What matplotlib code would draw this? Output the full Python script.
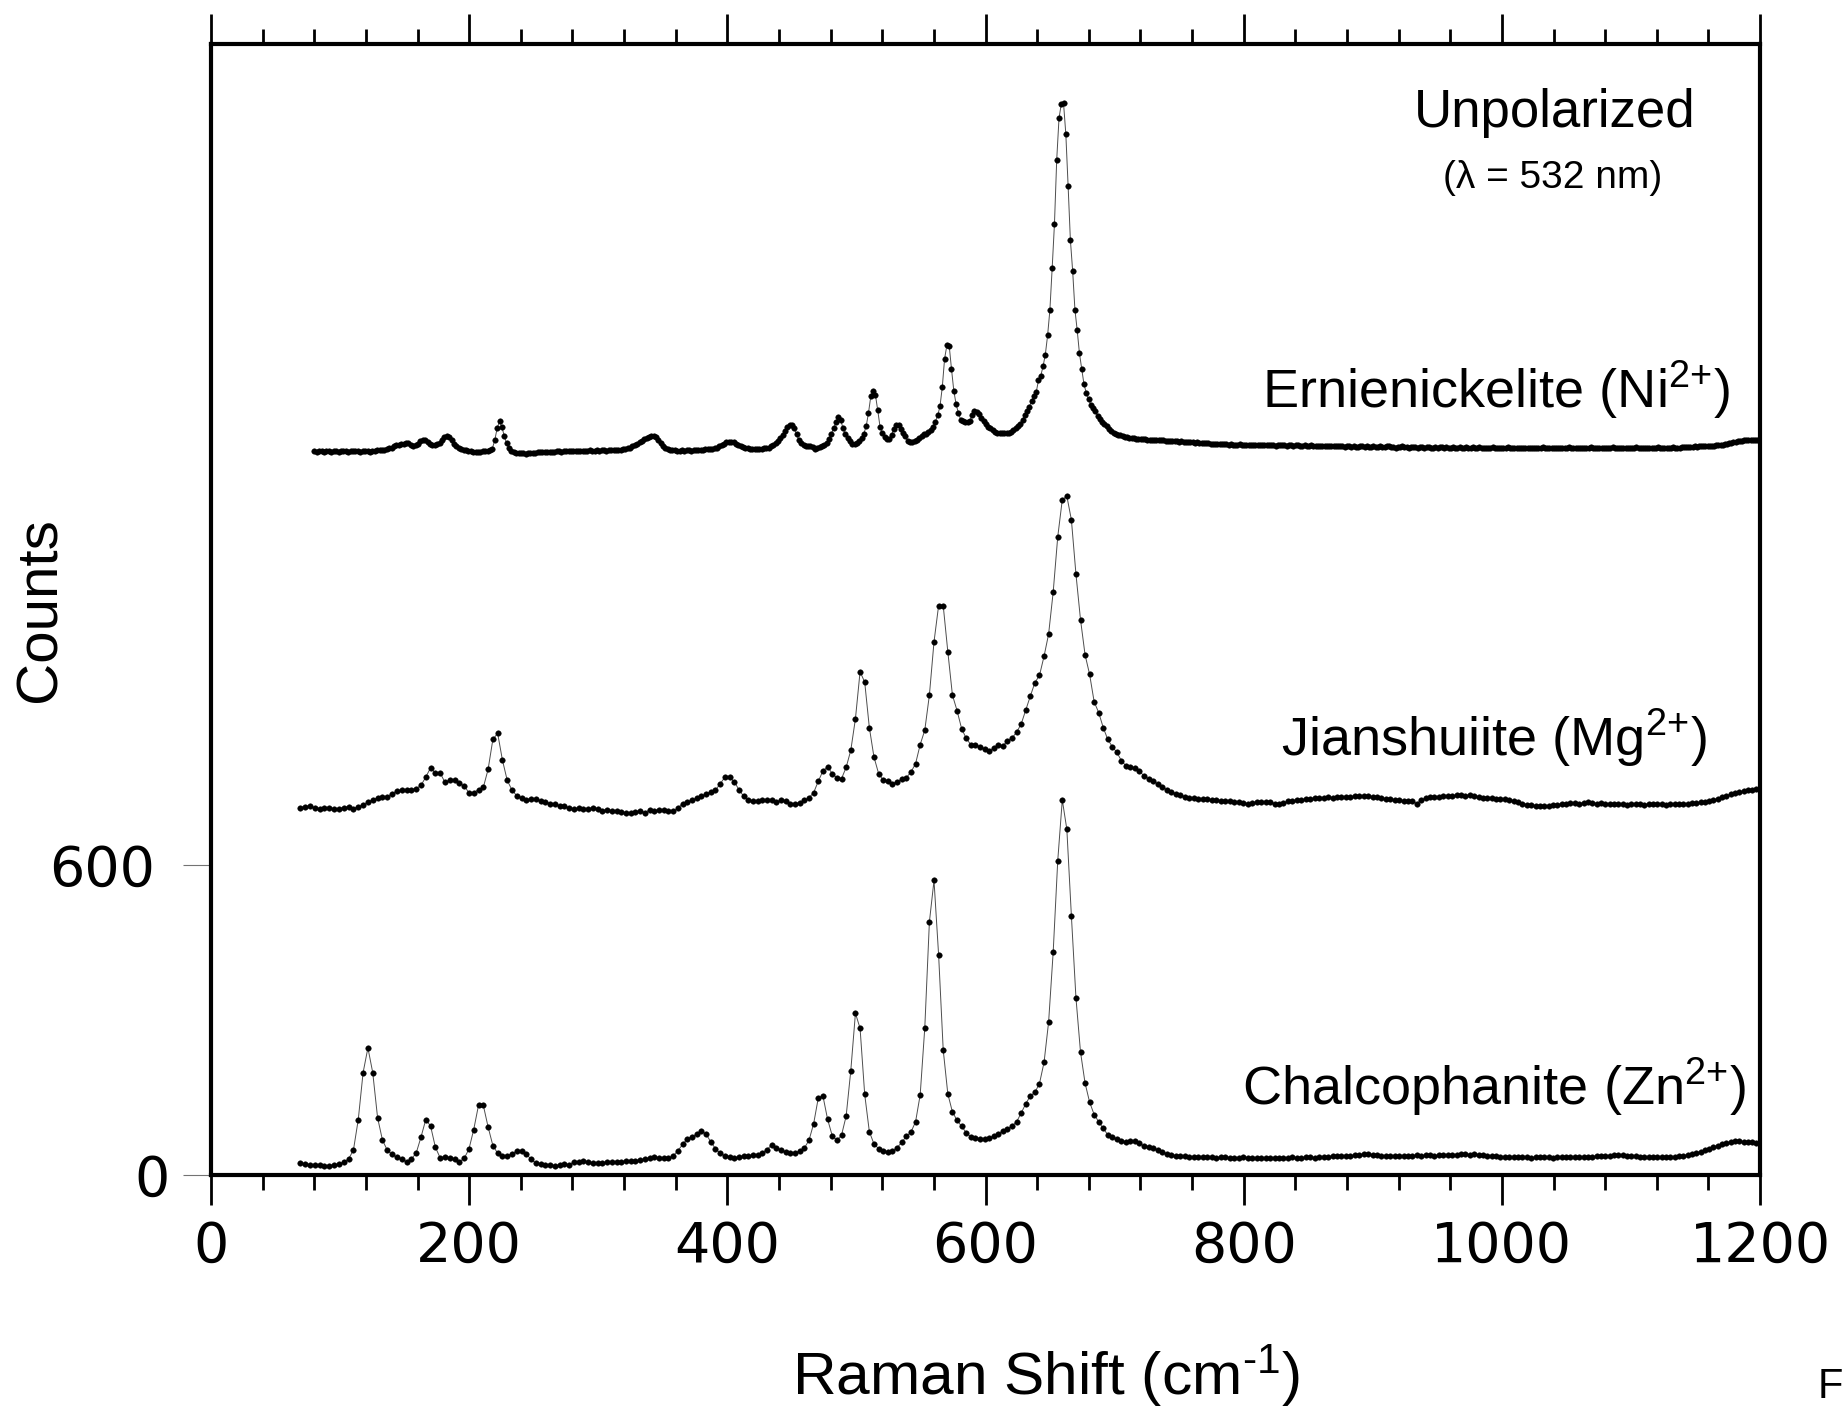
import numpy as np
import matplotlib
matplotlib.use("Agg")
import matplotlib.pyplot as plt
from matplotlib.ticker import MultipleLocator
from matplotlib.transforms import ScaledTranslation

plt.rcParams["font.family"] = ["Liberation Sans", "DejaVu Sans"]
plt.rcParams["mathtext.fontset"] = "custom"
plt.rcParams["mathtext.rm"] = "Liberation Sans"
plt.rcParams["mathtext.default"] = "regular"

LASER_NM = 532.0

# Spectra are sampled on an even CCD wavelength grid; counts are stored
# above each trace's vertical offset.
CHALCO_START, CHALCO_STEP_NM, CHALCO_OFFSET = 69.0, 0.1073, 0
JIAN_START, JIAN_STEP_NM, JIAN_OFFSET = 69.0, 0.1073, 690
ERNIE_START, ERNIE_STEP_NM, ERNIE_OFFSET = 80.0, 0.0536, 1380

chalco_counts = [
    23, 21, 19, 19, 19, 17, 18, 20, 21, 25,
    31, 48, 107, 198, 246, 198, 111, 68, 48, 40,
    34, 30, 26, 31, 42, 73, 107, 95, 54, 33,
    35, 33, 30, 26, 32, 50, 88, 135, 135, 93,
    57, 42, 36, 37, 41, 46, 47, 41, 30, 23,
    21, 20, 19, 18, 19, 21, 20, 25, 26, 27,
    25, 24, 23, 23, 25, 25, 26, 26, 27, 27,
    28, 29, 31, 33, 34, 33, 33, 32, 37,
    47, 59, 70, 74, 79, 85, 79, 64, 51, 42,
    37, 35, 33, 35, 37, 37, 38, 39, 43, 49,
    58, 53, 48, 44, 43, 43, 46, 52, 67, 99,
    149, 153, 108, 76, 67, 77, 114, 202, 313, 284,
    156, 84, 60, 51, 46, 45, 46, 53, 63, 75,
    83, 103, 155, 285, 490, 570, 426, 242, 157, 122,
    106, 94, 82, 74, 71, 69, 69, 72, 75, 80,
    85, 89, 95, 103, 120, 138, 153, 160, 177, 218,
    296, 431, 608, 726, 669, 501, 343, 238, 178, 141,
    117, 103, 90, 78, 73, 69, 65, 64, 65, 65,
    61, 56, 54,
    53, 48, 44, 41, 39, 37, 36, 36, 35,
    35, 34, 34, 35, 34, 33, 34, 34, 33,
    33, 33, 34, 33, 32, 33, 33, 32, 33, 33, 32, 33, 33, 34, 33, 33, 34, 34, 33, 34,
    35, 35, 36, 36, 37, 36, 37, 38, 39, 40, 40, 39, 38, 37, 37, 36, 37, 36, 37, 37,
    37, 38, 37, 38, 38, 37, 38, 39, 38, 38, 39, 40, 40, 39, 40, 39, 38, 37, 36, 36,
    35, 35, 34, 34, 35, 34, 34, 33, 34, 34, 34, 34, 33, 34, 34, 35, 34, 34, 34, 35,
    35, 35, 36, 36, 37, 37, 38, 38, 38, 37, 37, 36, 35, 34, 34, 34, 34, 34, 34, 34,
    35, 36, 37, 39, 41, 43, 45, 48, 51, 54, 57, 60, 62, 64, 65, 65, 64, 64, 63, 62, 62,
]

jian_counts = [
    21, 23, 24, 20, 18, 21, 20, 18, 19, 21,
    23, 19, 23, 26, 32, 36, 40, 42, 42, 48,
    53, 55, 55, 56, 58, 64, 80, 98, 88, 88,
    70, 74, 74, 68, 63, 50, 50, 56, 60, 95,
    153, 165, 113, 74, 55, 44, 40, 36, 38, 37,
    34, 32, 29, 28, 24, 24, 20, 18, 20, 18,
    18, 21, 18, 15, 17, 15, 15, 13, 10, 11,
    13, 15, 11, 17, 15, 17, 16, 15, 14,
    20, 29, 32, 35, 39, 43, 47, 52, 55, 67,
    80, 80, 71, 56, 43, 35, 34, 34, 35, 35,
    35, 32, 35, 33, 29, 29, 30, 35, 40, 50,
    72, 92, 100, 87, 79, 77, 99, 132, 193, 284,
    264, 176, 119, 87, 74, 72, 67, 71, 76, 79,
    90, 106, 143, 171, 239, 342, 412, 412, 323, 239,
    209, 174, 155, 143, 142, 139, 134, 131, 136, 142,
    141, 150, 156, 167, 183, 210, 237, 263, 277, 314,
    357, 438, 545, 617, 624, 578, 473, 385, 317, 279,
    226, 205, 176, 153, 139, 128, 112, 102, 99, 98,
    92, 82, 77,
    73, 67, 61, 56, 52, 48, 45, 42, 40,
    39, 38, 37, 37, 36, 35, 34, 33, 33,
    32, 31, 30, 29, 30, 31, 32, 32, 31, 29, 28, 30, 33, 34, 35, 36, 37, 38, 39, 39,
    40, 41, 40, 41, 42, 42, 41, 43, 44, 43, 43, 42, 41, 39, 38, 37, 36, 35, 34, 34,
    33, 29, 36, 39, 41, 42, 42, 43, 44, 44, 45, 45, 44, 45, 43, 41, 40, 39, 39, 38,
    38, 37, 36, 34, 31, 29, 27, 26, 25, 24, 24, 25, 26, 27, 28, 29, 30, 30, 29, 30,
    31, 30, 29, 30, 29, 28, 29, 28, 28, 27, 28, 29, 28, 27, 28, 28, 29, 28, 27, 28,
    28, 28, 29, 29, 30, 30, 31, 32, 34, 36, 38, 41, 44, 47, 49, 51, 53, 55, 56, 57, 58,
]

ernie_counts = [
    21, 20, 21, 22, 20, 21, 21, 20, 22, 21, 20, 21, 22, 21, 20, 21, 21, 22, 21, 20, 21, 22, 21, 20, 21,
    22, 23, 23, 24, 24, 25, 27, 28, 30, 32, 33, 34, 35, 37, 36, 33, 31, 32, 35, 40, 43, 42, 38, 34, 33,
    33, 34, 37, 42, 48, 51, 48, 42, 35, 31, 28, 26, 24, 23, 22, 21, 20, 20, 20, 20, 21, 21, 22, 23, 26,
    42, 65, 79, 68, 50, 36, 27, 22, 20, 18, 17, 17, 17, 16, 17, 17, 18, 18, 19, 19, 19, 20, 20, 20, 20,
    20, 21, 21, 20, 21, 22, 21, 21, 22, 22, 21, 22, 22, 21, 22, 23, 22, 22, 23, 22, 23, 23, 22, 23, 23,
    23, 23, 24, 24, 25, 26, 27, 28, 30, 32, 35, 38, 41, 44, 46, 48, 50, 51, 48, 42, 36, 30, 27, 25, 24,
    23, 23, 22, 22, 23, 22, 23, 23, 22, 23, 23, 23, 24, 24, 25, 25, 26, 26, 27, 28, 30, 32, 35, 38, 39,
    39, 38, 35, 32, 30, 29, 28, 27, 26, 26, 26, 26, 26, 26, 27, 27, 28, 30, 33, 37, 41, 46, 52, 60, 68,
    72, 71, 66, 54, 43, 37, 33, 30, 30, 31, 29, 26, 27, 29, 31, 32, 36, 45, 55, 65, 77, 88, 82, 65, 54,
    46, 40, 34, 34, 36, 40, 46, 55, 69, 95, 127, 138, 130, 100, 68, 56, 48, 44, 45, 53, 64, 72, 71, 64, 56,
    50, 40, 39, 39, 41, 43, 47, 51, 54, 55, 58, 62, 67, 78, 90, 108, 145, 200, 226, 225, 180, 138, 112, 95, 82,
    79, 78, 78, 80, 90, 98, 97, 92, 86, 80, 74, 68, 65, 62, 59, 57, 56, 56, 56, 56, 57, 59, 62, 65, 69,
    74, 82, 90, 98, 107, 118, 128, 135, 158, 167, 185, 208, 245, 294, 375, 460, 585, 665, 693, 694, 635, 535, 430, 370, 295,
    255, 210, 180, 150, 134, 122, 111, 104, 98, 89, 83, 77, 73, 69, 64, 60, 57, 55, 53, 52, 51, 49, 48, 47, 46,
    46, 45, 45, 44, 44, 44, 43, 43, 43, 42, 42, 43, 42, 42, 41, 41, 41, 40, 40, 40, 39, 40, 39, 38, 38,
    38, 38, 37, 38, 37, 37, 36, 36, 36, 35, 35, 35, 34, 34, 35, 34, 34, 33, 34, 33, 33, 33, 34, 33, 33,
    33, 33, 32, 33, 33, 32, 33, 32, 32, 33, 32, 32, 32, 31, 32, 32, 33, 32, 31, 32, 32, 31, 32, 32, 31,
    31, 32, 31, 31, 32, 31, 30, 31, 31, 30, 31, 31, 30, 31, 30, 30, 31, 30, 30, 29, 30, 30, 29, 30, 29,
    29, 30, 30, 29, 30, 29, 29, 30, 29, 29, 30, 29, 29, 30, 30, 29, 29, 28, 29, 29, 30, 29, 29, 28, 29,
    29, 29, 28, 29, 29, 28, 29, 29, 28, 28, 29, 28, 29, 29, 28, 29, 28, 28, 29, 28, 28, 29, 28, 28, 29,
    28, 28, 29, 28, 28, 29, 28, 28, 27, 28, 28, 29, 28, 28, 27, 28, 28, 28, 29, 28, 28, 27, 28, 28, 28,
    28, 28, 27, 28, 28, 28, 27, 28, 28, 29, 28, 28, 28, 27, 28, 28, 28, 28, 27, 28, 28, 29, 28, 28, 28,
    28, 28, 28, 27, 28, 28, 29, 28, 28, 28, 27, 28, 28, 28, 28, 28, 29, 28, 28, 28, 27, 28, 28, 28, 28,
    28, 28, 29, 28, 28, 28, 28, 27, 28, 28, 28, 28, 29, 28, 28, 28, 28, 28, 28, 29, 28, 28, 28, 29, 29,
    29, 29, 29, 29, 30, 29, 30, 30, 30, 30, 30, 31, 31, 31, 32, 32, 33, 33, 34, 35, 36, 37, 38, 39, 40,
    41, 41, 42, 42, 42, 42, 43, 42, 42, 42,
]

labels = [
    r"Chalcophanite (Zn$^{\text{2+}}$)",
    r"Jianshuiite (Mg$^{\text{2+}}$)",
    r"Ernienickelite (Ni$^{\text{2+}}$)",
]


def raman_shift(start_shift, step_nm, n):
    """Raman shift (cm-1) for an even wavelength grid starting at start_shift."""
    nu_laser = 1e7 / LASER_NM
    wl0 = 1e7 / (nu_laser - start_shift)
    wl = wl0 + step_nm * np.arange(n)
    return nu_laser - 1e7 / wl


spectra = [
    (chalco_counts, CHALCO_START, CHALCO_STEP_NM, CHALCO_OFFSET),
    (jian_counts, JIAN_START, JIAN_STEP_NM, JIAN_OFFSET),
    (ernie_counts, ERNIE_START, ERNIE_STEP_NM, ERNIE_OFFSET),
]

fig = plt.figure(figsize=(18.43, 14.08), dpi=100)
ax = fig.add_axes([0.1145, 0.1655, 0.8405, 0.8036])

for counts, start, step, offset in spectra:
    y = np.asarray(counts, dtype=float) + offset
    x = raman_shift(start, step, len(y))
    ax.plot(x, y, "-", color="0.3", lw=0.7, marker="o", ms=4.0,
            mfc="black", mec="black", mew=0.3)

ax.set_xlim(0, 1200)
ax.set_ylim(0, 2190)

ax.xaxis.set_major_locator(MultipleLocator(200))
ax.xaxis.set_minor_locator(MultipleLocator(40))
ax.set_yticks([0, 600])

ax.tick_params(axis="x", which="both", direction="out", top=True, bottom=True,
               labeltop=False, width=2.0, color="black")
ax.tick_params(axis="x", which="major", length=21.5, pad=11, labelsize=40)
ax.tick_params(axis="x", which="minor", length=11)
ax.tick_params(axis="y", which="major", direction="out", left=True, right=False,
               length=20, width=0.8, color="0.45", pad=20, labelsize=40)

for lab in ax.get_xticklabels() + ax.get_yticklabels():
    lab.set_fontfamily("DejaVu Sans")

# the zero label sits a little further right than the 600 label
for lab in ax.get_yticklabels():
    if lab.get_text() == "0":
        lab.set_transform(lab.get_transform() + ScaledTranslation(0.14, 0, fig.dpi_scale_trans))

for side in ["left", "right", "top", "bottom"]:
    ax.spines[side].set_linewidth(3.0)

# trace labels and measurement note
ax.text(0.9906, 0.0619, labels[0], transform=ax.transAxes, ha="right", va="baseline", fontsize=39)
ax.text(0.9658, 0.3703, labels[1], transform=ax.transAxes, ha="right", va="baseline", fontsize=39)
ax.text(0.9806, 0.6779, labels[2], transform=ax.transAxes, ha="right", va="baseline", fontsize=39)
ax.text(0.8677, 0.9262, "Unpolarized", transform=ax.transAxes, ha="center", va="baseline", fontsize=38)
ax.text(0.8664, 0.8723, "(\u03bb = 532 nm)", transform=ax.transAxes, ha="center", va="baseline", fontsize=28)

fig.text(1046 / 1843, 1 - 1395 / 1408, r"Raman Shift (cm$^{\text{-1}}$)", ha="center", va="baseline", fontsize=43.5)
fig.text(41 / 1843, 1 - 610 / 1408, "Counts", rotation=90, ha="center", va="center", fontsize=42)
fig.text(1818 / 1843, 1 - 1398 / 1408, "F", ha="left", va="baseline", fontsize=30)

fig.savefig("out.png", dpi=100)
